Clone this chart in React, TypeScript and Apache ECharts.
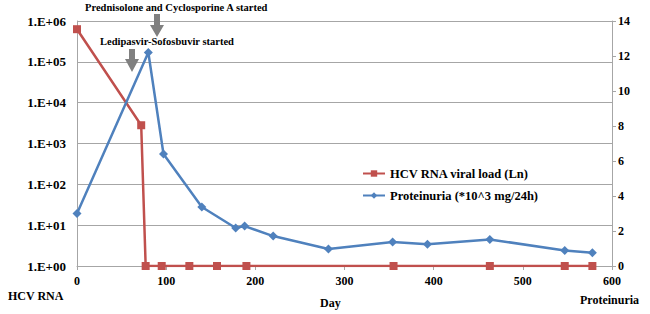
import React, { useEffect, useRef } from "react";
import * as echarts from "echarts";

const hcvDays = [0, 72, 77, 95, 126, 157, 190, 355, 463, 547, 578];
const hcvValues = [630000, 2800, 1, 1, 1, 1, 1, 1, 1, 1, 1];
const protDays = [0, 80, 97, 140, 178, 188, 220, 282, 354, 393, 463, 547, 578];
const protValues = [3.0, 12.2, 6.4, 3.37, 2.17, 2.28, 1.71, 0.97, 1.37, 1.24, 1.52, 0.88, 0.76];
const hcvName = "HCV RNA viral load (Ln)";
const protName = "Proteinuria (*10^3 mg/24h)";
const annotPred = "Prednisolone and Cyclosporine A started";
const annotLedi = "Ledipasvir-Sofosbuvir started";

const FONT = "Liberation Serif";
const RED = "#c0504d";
const BLUE = "#4f81bd";
const GRAY = "#a6a6a6";

function arrow(cx: number, top: number, headStart: number, tip: number) {
  return {
    type: "polygon",
    shape: {
      points: [
        [cx - 3, top],
        [cx + 3, top],
        [cx + 3, headStart],
        [cx + 7, headStart],
        [cx, tip],
        [cx - 7, headStart],
        [cx - 3, headStart],
      ],
    },
    style: { fill: "#808080" },
    z: 10,
  };
}

export default function App() {
  const ref = useRef<HTMLDivElement>(null);
  useEffect(() => {
    if (!ref.current) return;
    const chart = echarts.init(ref.current, undefined, { renderer: "svg" });
    const textStyle = { fontFamily: FONT, fontWeight: "bold" as const, color: "#000" };
    chart.setOption({
      animation: false,
      textStyle: { fontFamily: FONT },
      grid: { left: 77, right: 38, top: 21, bottom: 48 },
      legend: {
        orient: "vertical",
        left: 357,
        top: 162,
        itemWidth: 22,
        itemHeight: 8,
        itemGap: 9,
        data: [hcvName, protName],
        textStyle: { ...textStyle, fontSize: 12.5 },
      },
      xAxis: {
        type: "value",
        min: 0,
        max: 600,
        interval: 100,
        axisLine: { show: true, lineStyle: { color: GRAY } },
        axisTick: { show: true, length: 4, lineStyle: { color: GRAY } },
        axisLabel: { ...textStyle, fontSize: 12, margin: 9 },
        splitLine: { show: false },
      },
      yAxis: [
        {
          type: "log",
          logBase: 10,
          min: 1,
          max: 1000000,
          axisLine: { show: true, lineStyle: { color: GRAY } },
          axisTick: { show: false },
          axisLabel: {
            ...textStyle,
            fontSize: 13,
            margin: 11,
            formatter: (v: number) => {
              const e = Math.round(Math.log10(v));
              return "1.E+" + (e < 10 ? "0" + e : "" + e);
            },
          },
          splitLine: { show: true, lineStyle: { color: GRAY, width: 1 } },
        },
        {
          type: "value",
          position: "right",
          min: 0,
          max: 14,
          interval: 2,
          axisLine: { show: true, lineStyle: { color: GRAY } },
          axisTick: { show: true, length: 4, lineStyle: { color: GRAY } },
          axisLabel: { ...textStyle, fontSize: 12, margin: 6 },
          splitLine: { show: false },
        },
      ],
      series: [
        {
          name: hcvName,
          type: "line",
          yAxisIndex: 0,
          data: hcvDays.map((d, i) => [d, hcvValues[i]]),
          symbol: "rect",
          symbolSize: 8,
          lineStyle: { color: RED, width: 2.5 },
          itemStyle: { color: RED },
          z: 3,
        },
        {
          name: protName,
          type: "line",
          yAxisIndex: 1,
          data: protDays.map((d, i) => [d, protValues[i]]),
          symbol: "diamond",
          symbolSize: 9,
          lineStyle: { color: BLUE, width: 2.5 },
          itemStyle: { color: BLUE },
          z: 4,
        },
      ],
      graphic: [
        {
          type: "text",
          left: 85,
          top: 2,
          style: { text: annotPred, font: `bold 10.5px ${FONT}`, fill: "#000" },
        },
        {
          type: "text",
          left: 100,
          top: 36,
          style: { text: annotLedi, font: `bold 10.5px ${FONT}`, fill: "#000" },
          z: 5,
        },
        arrow(157, 14, 25, 37),
        arrow(132, 49, 59, 72),
        {
          type: "text",
          left: 8,
          top: 290,
          style: { text: "HCV RNA", font: `bold 12px ${FONT}`, fill: "#000" },
        },
        {
          type: "text",
          left: 320,
          top: 297,
          style: { text: "Day", font: `bold 12px ${FONT}`, fill: "#000" },
        },
        {
          type: "text",
          left: 580,
          top: 294,
          style: { text: "Proteinuria", font: `bold 12px ${FONT}`, fill: "#000" },
        },
      ],
    });
    return () => chart.dispose();
  }, []);
  return <div ref={ref} style={{ width: 650, height: 314, position: "absolute", left: 0, top: 0 }} />;
}
